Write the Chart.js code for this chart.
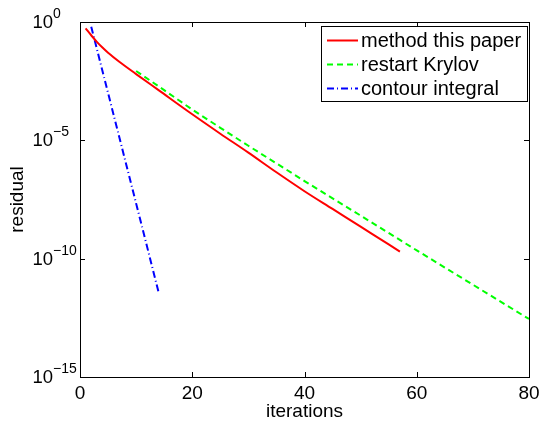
<!DOCTYPE html>
<html>
<head>
<meta charset="utf-8">
<script src="https://cdn.jsdelivr.net/npm/chart.js@4/dist/chart.umd.min.js"></script>
<style>
  html, body { margin: 0; padding: 0; background: #fff; }
  #wrap { width: 541px; height: 421px; }
</style>
</head>
<body>
<div id="wrap"><canvas id="Chart" width="541" height="421"></canvas></div>
<script>
// values, residual given as log10 exponent
const methodIters = [1, 2, 3, 4, 5, 7, 10, 14, 20, 25, 30, 35, 40, 45, 50, 55, 57]
const methodExp = [-0.27, -0.56, -0.84, -1.08, -1.3, -1.68, -2.2, -2.88, -3.9, -4.72, -5.52, -6.35, -7.15, -7.9, -8.65, -9.4, -9.7]

const krylovIters = [10, 15, 20, 25, 30, 40, 50, 57, 60, 70, 80]
const krylovExp = [-2.07, -2.88, -3.7, -4.47, -5.23, -6.72, -8.18, -9.21, -9.65, -11.1, -12.55]

const contourIters = [2, 5, 8, 11, 14]
const contourExp = [-0.2, -3.0, -5.8, -8.6, -11.42]

const xTicks = [0, 20, 40, 60, 80]
const yTickExp = [0, -5, -10, -15]

const FONT = 'Liberation Sans, Arial, Helvetica, sans-serif'

function toPoints(iters, exps) {
    return iters.map((it, i) => ({ x: it, y: Math.pow(10, exps[i]) }))
}

// box, inward ticks, y labels with superscripts and the legend
const matlabAxes = {
    id: 'matlabAxes',
    afterDraw(chart) {
        const ctx = chart.ctx
        const area = chart.chartArea
        const xs = chart.scales.x
        const ys = chart.scales.y
        ctx.save()
        ctx.strokeStyle = '#000'
        ctx.lineWidth = 1
        ctx.strokeRect(Math.round(area.left) + 0.5, Math.round(area.top) + 0.5,
            Math.round(area.right - area.left), Math.round(area.bottom - area.top))

        // ticks pointing into the plot, on all four sides
        const tl = 5
        ctx.beginPath()
        xTicks.forEach(v => {
            const px = Math.round(xs.getPixelForValue(v)) + 0.5
            ctx.moveTo(px, area.bottom); ctx.lineTo(px, area.bottom - tl)
            ctx.moveTo(px, area.top); ctx.lineTo(px, area.top + tl)
        })
        yTickExp.forEach(e => {
            const py = Math.round(ys.getPixelForValue(Math.pow(10, e))) + 0.5
            ctx.moveTo(area.left, py); ctx.lineTo(area.left + tl, py)
            ctx.moveTo(area.right, py); ctx.lineTo(area.right - tl, py)
        })
        ctx.stroke()

        // y tick labels 10^n
        ctx.fillStyle = '#000'
        yTickExp.forEach(e => {
            const py = ys.getPixelForValue(Math.pow(10, e))
            ctx.font = '18.5px ' + FONT
            ctx.textAlign = 'right'
            ctx.textBaseline = 'middle'
            ctx.fillText('10', 53, py + 1)
            ctx.font = '14px ' + FONT
            ctx.textAlign = 'left'
            ctx.fillText(e === 0 ? '0' : '\u2212' + Math.abs(e), 53, py - 8)
        })

        // legend in the upper right corner
        const lx = 321.5, ly = 26.5, lw = 206, lh = 75
        ctx.fillStyle = '#fff'
        ctx.fillRect(lx, ly, lw, lh)
        ctx.strokeStyle = '#000'
        ctx.strokeRect(lx, ly, lw, lh)
        const rows = [40.5, 64.5, 88.5]
        chart.data.datasets.forEach((ds, i) => {
            const y = rows[i]
            ctx.strokeStyle = ds.borderColor
            ctx.lineWidth = ds.borderWidth
            ctx.setLineDash(ds.borderDash || [])
            ctx.beginPath()
            ctx.moveTo(327, y); ctx.lineTo(358, y)
            ctx.stroke()
            ctx.setLineDash([])
            ctx.fillStyle = '#000'
            ctx.font = '20px ' + FONT
            ctx.textAlign = 'left'
            ctx.textBaseline = 'middle'
            ctx.fillText(ds.label, 361, y + 1)
        })
        ctx.restore()
    }
}

const ctx = document.getElementById('Chart').getContext('2d')
const myChart = new Chart(ctx, {
    type: 'line',
    data: {
        datasets: [{
            label: 'method this paper',
            data: toPoints(methodIters, methodExp),
            borderColor: '#ff0000',
            borderWidth: 2,
            pointRadius: 0,
            cubicInterpolationMode: 'monotone'
        }, {
            label: 'restart Krylov',
            data: toPoints(krylovIters, krylovExp),
            borderColor: '#00ff00',
            borderWidth: 2,
            borderDash: [6, 4],
            pointRadius: 0
        }, {
            label: 'contour integral',
            data: toPoints(contourIters, contourExp),
            borderColor: '#0000ff',
            borderWidth: 2,
            borderDash: [7, 3, 1, 3],
            pointRadius: 0
        }]
    },
    options: {
        responsive: false,
        animation: false,
        layout: { padding: { top: 22, right: 12, left: 0, bottom: 0 } },
        plugins: { legend: { display: false }, tooltip: { enabled: false } },
        scales: {
            x: {
                type: 'linear',
                min: 0,
                max: 80,
                afterBuildTicks: axis => { axis.ticks = xTicks.map(v => ({ value: v })) },
                afterFit: scale => {
                    scale.height = 44
                    scale.paddingLeft = 0
                    scale.paddingRight = 0
                },
                grid: { display: false, drawTicks: false },
                border: { display: false },
                ticks: { color: '#000', padding: 5, font: { family: FONT, size: 19 }, maxRotation: 0 },
                title: {
                    display: true, text: 'iterations', color: '#000',
                    font: { family: FONT, size: 19, lineHeight: 1 },
                    padding: { top: 0, bottom: 0 }
                }
            },
            y: {
                type: 'logarithmic',
                min: 1e-15,
                max: 1,
                afterBuildTicks: axis => { axis.ticks = yTickExp.map(e => ({ value: Math.pow(10, e) })) },
                afterFit: scale => { scale.width = 80 },
                grid: { display: false, drawTicks: false },
                border: { display: false },
                ticks: { display: false },
                title: {
                    display: true, text: 'residual', color: '#000',
                    font: { family: FONT, size: 19, lineHeight: 1 },
                    padding: { top: 8.5, bottom: 0 }
                }
            }
        }
    },
    plugins: [matlabAxes]
})
</script>
</body>
</html>
